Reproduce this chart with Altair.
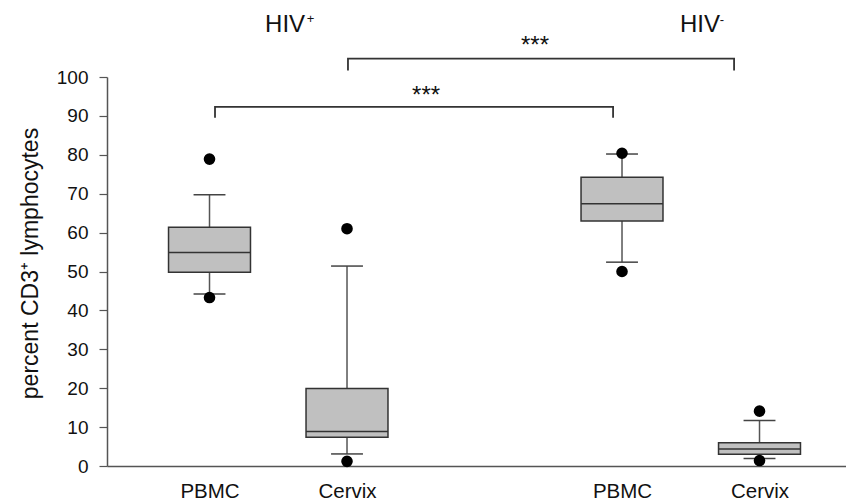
import altair as alt
import pandas as pd

# ---- data ----
groups = ["HIV+ PBMC", "HIV+ Cervix", "HIV- PBMC", "HIV- Cervix"]
positions = [1, 2, 4, 5]
x_labels = ["PBMC", "Cervix", "PBMC", "Cervix"]
q1 = [49.8, 7.4, 63.0, 3.0]
median = [54.9, 8.9, 67.4, 4.4]
q3 = [61.4, 19.9, 74.2, 6.0]
whisker_low = [44.2, 3.1, 52.4, 1.9]
whisker_high = [69.7, 51.4, 80.2, 11.7]
outlier_low = [43.3, 1.2, 50.0, 1.4]
outlier_high = [78.9, 61.0, 80.4, 14.1]

# significance brackets: x start, x end, top level, leg bottom
bracket_x1 = [1.04, 2.007]
bracket_x2 = [3.935, 4.815]
bracket_top = [92.3, 104.7]
bracket_leg = [89.55, 101.7]
star_x = [2.575, 3.367]
star_y = [93.2, 106.1]
star_text = ["***", "***"]

group_titles = ["HIV", "HIV"]
group_title_x = [1.404, 4.422]
group_title_y = [111.6, 111.6]
sup_text = ["+", "-"]
sup_x = [1.707, 4.71]
sup_y = [113.9, 113.6]

FONT = "Liberation Sans"
BOX_HALF = 0.298
CAP_HALF = 0.116

boxes = pd.DataFrame({
    "group": groups, "pos": positions, "q1": q1, "med": median, "q3": q3,
    "wl": whisker_low, "wh": whisker_high,
})
boxes["left"] = boxes["pos"] - BOX_HALF
boxes["right"] = boxes["pos"] + BOX_HALF
boxes["capl"] = boxes["pos"] - CAP_HALF
boxes["capr"] = boxes["pos"] + CAP_HALF

outliers = pd.DataFrame({
    "pos": positions + positions,
    "val": outlier_low + outlier_high,
})

brk_rows = []
for i in range(len(bracket_x1)):
    pts = [(bracket_x1[i], bracket_leg[i]), (bracket_x1[i], bracket_top[i]),
           (bracket_x2[i], bracket_top[i]), (bracket_x2[i], bracket_leg[i])]
    for k, (px, py) in enumerate(pts):
        brk_rows.append({"b": i, "o": k, "x": px, "y": py})
brackets = pd.DataFrame(brk_rows)

stars = pd.DataFrame({"x": star_x, "y": star_y, "t": star_text})
titles = pd.DataFrame({"x": group_title_x, "y": group_title_y, "t": group_titles})
sups = pd.DataFrame({"x": sup_x, "y": sup_y, "t": sup_text})

label_expr = " : ".join(
    f"datum.value == {p} ? '{l}'" for p, l in zip(positions, x_labels)
) + " : ''"

xs = alt.Scale(domain=[0.2545, 5.629], nice=False, zero=False)
ys = alt.Scale(domain=[0, 100], nice=False, zero=False)
x_axis = alt.Axis(values=positions, labelExpr=label_expr, ticks=False, tickSize=0,
                  labelPadding=15, labelFontSize=20.5, labelFont=FONT, labelColor="#111",
                  domainColor="#555", domainWidth=1.5, grid=False, title=None)
y_axis = alt.Axis(values=list(range(0, 101, 10)), tickSize=8, tickColor="#555", tickWidth=1.2,
                  domainColor="#555", domainWidth=1.5, labelFontSize=19, labelFont=FONT,
                  labelColor="#111", labelPadding=11, grid=False,
                  title="percent CD3⁺ lymphocytes", titleFont=FONT, titleFontSize=23,
                  titleFontWeight="normal", titleColor="#111", titleAngle=270,
                  titleX=-65, titleY=186, titleAlign="center", titleBaseline="bottom")


def X(f):
    return alt.X(f, type="quantitative", scale=xs, axis=x_axis)


def Y(f):
    return alt.Y(f, type="quantitative", scale=ys, axis=y_axis)


base = alt.Chart(boxes)

whisk = base.mark_rule(color="#555", strokeWidth=1.5).encode(
    x=X("pos"), y=Y("wl"), y2="wh")
cap_hi = base.mark_rule(color="#444", strokeWidth=1.5).encode(
    x=X("capl"), x2="capr", y=Y("wh"))
cap_lo = base.mark_rule(color="#444", strokeWidth=1.5).encode(
    x=X("capl"), x2="capr", y=Y("wl"))
box = base.mark_rect(fill="#c0c0c0", stroke="#333", strokeWidth=1.5).encode(
    x=X("left"), x2="right", y=Y("q1"), y2="q3")
med = base.mark_rule(color="#333", strokeWidth=1.5).encode(
    x=X("left"), x2="right", y=Y("med"))
pts = alt.Chart(outliers).mark_circle(color="black", opacity=1, size=135).encode(
    x=X("pos"), y=Y("val"))
brk = alt.Chart(brackets).mark_line(color="#333", strokeWidth=1.8).encode(
    x=X("x"), y=Y("y"), detail="b:N", order="o:Q")
star = alt.Chart(stars).mark_text(font=FONT, fontSize=24, color="#111", align="center",
                                  baseline="alphabetic").encode(
    x=X("x"), y=Y("y"), text="t:N")
ttl = alt.Chart(titles).mark_text(font=FONT, fontSize=24, color="#111", align="left",
                                 baseline="alphabetic").encode(
    x=X("x"), y=Y("y"), text="t:N")
sup = alt.Chart(sups).mark_text(font=FONT, fontSize=13, color="#111", align="left",
                               baseline="alphabetic").encode(
    x=X("x"), y=Y("y"), text="t:N")

chart = alt.layer(whisk, cap_hi, cap_lo, box, med, pts, brk, star, ttl, sup).properties(
    width=739, height=389,
    autosize=alt.AutoSizeParams(type="none"),
    padding={"left": 99, "top": 69, "right": 0, "bottom": 34},
    background="white",
).configure_view(stroke=None)

chart.save("out.html", embed_options={"renderer": "svg", "actions": False})
